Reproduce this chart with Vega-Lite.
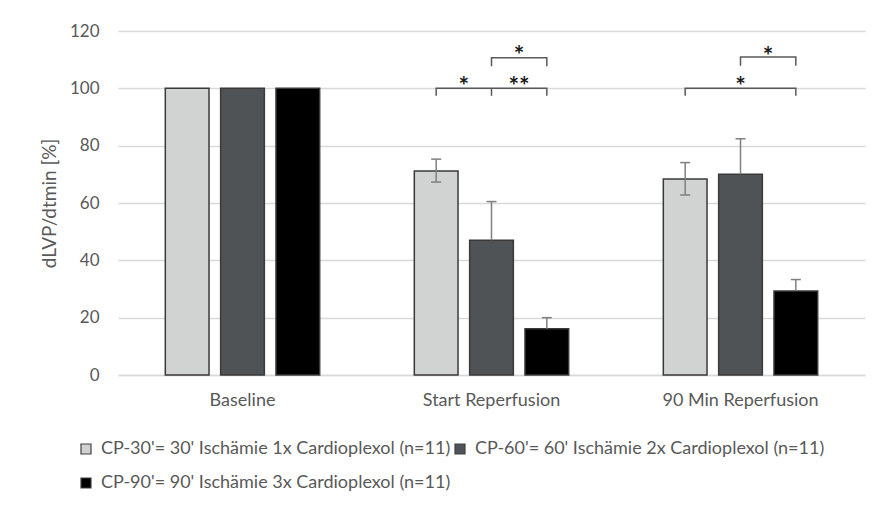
{
  "$schema": "https://vega.github.io/schema/vega-lite/v6.json",
  "width": 747,
  "height": 344,
  "autosize": "none",
  "padding": {"left": 118, "top": 31, "right": 23, "bottom": 131},
  "background": "white",
  "config": {
    "font": "Lato",
    "view": {"stroke": null},
    "axis": {"labelFont": "Lato", "titleFont": "Lato"}
  },
  "datasets": {
    "bars": [
      {"cat": "Baseline", "series": "CP-30'= 30' Ischämie 1x Cardioplexol (n=11)", "value": 100, "lo": null, "hi": null},
      {"cat": "Baseline", "series": "CP-60'= 60' Ischämie 2x Cardioplexol (n=11)", "value": 100, "lo": null, "hi": null},
      {"cat": "Baseline", "series": "CP-90'= 90' Ischämie 3x Cardioplexol (n=11)", "value": 100, "lo": null, "hi": null},
      {"cat": "Start Reperfusion", "series": "CP-30'= 30' Ischämie 1x Cardioplexol (n=11)", "value": 71.2, "lo": 67.3, "hi": 75.3},
      {"cat": "Start Reperfusion", "series": "CP-60'= 60' Ischämie 2x Cardioplexol (n=11)", "value": 47.0, "lo": 47.0, "hi": 60.5},
      {"cat": "Start Reperfusion", "series": "CP-90'= 90' Ischämie 3x Cardioplexol (n=11)", "value": 16.1, "lo": 16.1, "hi": 20.0},
      {"cat": "90 Min Reperfusion", "series": "CP-30'= 30' Ischämie 1x Cardioplexol (n=11)", "value": 68.4, "lo": 62.8, "hi": 74.1},
      {"cat": "90 Min Reperfusion", "series": "CP-60'= 60' Ischämie 2x Cardioplexol (n=11)", "value": 70.0, "lo": 70.0, "hi": 82.4},
      {"cat": "90 Min Reperfusion", "series": "CP-90'= 90' Ischämie 3x Cardioplexol (n=11)", "value": 29.3, "lo": 29.3, "hi": 33.3}
    ],
    "brackets": [
      {"id": "b1", "cat": "Start Reperfusion", "series": "CP-30'= 30' Ischämie 1x Cardioplexol (n=11)", "y": 97.4, "ord": 1},
      {"id": "b1", "cat": "Start Reperfusion", "series": "CP-30'= 30' Ischämie 1x Cardioplexol (n=11)", "y": 100, "ord": 2},
      {"id": "b1", "cat": "Start Reperfusion", "series": "CP-90'= 90' Ischämie 3x Cardioplexol (n=11)", "y": 100, "ord": 3},
      {"id": "b1", "cat": "Start Reperfusion", "series": "CP-90'= 90' Ischämie 3x Cardioplexol (n=11)", "y": 97.4, "ord": 4},
      {"id": "b1m", "cat": "Start Reperfusion", "series": "CP-60'= 60' Ischämie 2x Cardioplexol (n=11)", "y": 97.4, "ord": 1},
      {"id": "b1m", "cat": "Start Reperfusion", "series": "CP-60'= 60' Ischämie 2x Cardioplexol (n=11)", "y": 100, "ord": 2},
      {"id": "b2", "cat": "Start Reperfusion", "series": "CP-60'= 60' Ischämie 2x Cardioplexol (n=11)", "y": 107.7, "ord": 1},
      {"id": "b2", "cat": "Start Reperfusion", "series": "CP-60'= 60' Ischämie 2x Cardioplexol (n=11)", "y": 110.7, "ord": 2},
      {"id": "b2", "cat": "Start Reperfusion", "series": "CP-90'= 90' Ischämie 3x Cardioplexol (n=11)", "y": 110.7, "ord": 3},
      {"id": "b2", "cat": "Start Reperfusion", "series": "CP-90'= 90' Ischämie 3x Cardioplexol (n=11)", "y": 107.7, "ord": 4},
      {"id": "b3", "cat": "90 Min Reperfusion", "series": "CP-30'= 30' Ischämie 1x Cardioplexol (n=11)", "y": 97.4, "ord": 1},
      {"id": "b3", "cat": "90 Min Reperfusion", "series": "CP-30'= 30' Ischämie 1x Cardioplexol (n=11)", "y": 100, "ord": 2},
      {"id": "b3", "cat": "90 Min Reperfusion", "series": "CP-90'= 90' Ischämie 3x Cardioplexol (n=11)", "y": 100, "ord": 3},
      {"id": "b3", "cat": "90 Min Reperfusion", "series": "CP-90'= 90' Ischämie 3x Cardioplexol (n=11)", "y": 97.4, "ord": 4},
      {"id": "b4", "cat": "90 Min Reperfusion", "series": "CP-60'= 60' Ischämie 2x Cardioplexol (n=11)", "y": 107.9, "ord": 1},
      {"id": "b4", "cat": "90 Min Reperfusion", "series": "CP-60'= 60' Ischämie 2x Cardioplexol (n=11)", "y": 110.9, "ord": 2},
      {"id": "b4", "cat": "90 Min Reperfusion", "series": "CP-90'= 90' Ischämie 3x Cardioplexol (n=11)", "y": 110.9, "ord": 3},
      {"id": "b4", "cat": "90 Min Reperfusion", "series": "CP-90'= 90' Ischämie 3x Cardioplexol (n=11)", "y": 107.9, "ord": 4}
    ],
    "starsBetween": [
      {"cat": "Start Reperfusion", "series": "CP-30'= 30' Ischämie 1x Cardioplexol (n=11)", "label": "*", "y": 103.3},
      {"cat": "Start Reperfusion", "series": "CP-60'= 60' Ischämie 2x Cardioplexol (n=11)", "label": "**", "y": 103.3},
      {"cat": "Start Reperfusion", "series": "CP-60'= 60' Ischämie 2x Cardioplexol (n=11)", "label": "*", "y": 113.9},
      {"cat": "90 Min Reperfusion", "series": "CP-60'= 60' Ischämie 2x Cardioplexol (n=11)", "label": "*", "y": 113.8}
    ],
    "starsCenter": [
      {"cat": "90 Min Reperfusion", "series": "CP-60'= 60' Ischämie 2x Cardioplexol (n=11)", "label": "*", "y": 103.1}
    ]
  },
  "encoding": {
    "x": {
      "field": "cat", "type": "nominal",
      "sort": ["Baseline", "Start Reperfusion", "90 Min Reperfusion"],
      "scale": {"paddingInner": 0.38, "paddingOuter": 0.19},
      "axis": {
        "title": null, "labelAngle": 0, "ticks": false,
        "domainColor": "#d9d9d9", "domainWidth": 1.5,
        "labelFontSize": 18, "labelColor": "#595959", "labelPadding": 16
      }
    },
    "xOffset": {
      "field": "series", "type": "nominal",
      "scale": {"paddingInner": 0.21, "paddingOuter": 0}
    }
  },
  "layer": [
    {
      "data": {"name": "bars"},
      "mark": {"type": "bar", "stroke": "#3a3a3a", "strokeWidth": 1.5},
      "encoding": {
        "y": {
          "field": "value", "type": "quantitative",
          "scale": {"domain": [0, 120]},
          "axis": {
            "title": "dLVP/dtmin [%]", "values": [0, 20, 40, 60, 80, 100, 120],
            "domain": false, "ticks": false,
            "gridColor": "#d9d9d9", "gridWidth": 1.5,
            "labelFontSize": 17, "labelColor": "#595959", "labelPadding": 19,
            "titleFontSize": 19, "titleFontWeight": "normal", "titleColor": "#595959", "titlePadding": 10
          }
        },
        "color": {
          "field": "series", "type": "nominal",
          "scale": {"range": ["#d1d3d2", "#4f5356", "#000000"]},
          "legend": {
            "title": null, "orient": "none", "legendX": -41, "legendY": 409,
            "direction": "horizontal", "columns": 2,
            "symbolType": "square", "symbolSize": 100,
            "symbolStrokeColor": "#404040", "symbolStrokeWidth": 1.2,
            "labelFontSize": 18, "labelColor": "#595959", "labelFont": "Lato",
            "labelOffset": 6, "columnPadding": 0, "rowPadding": 16, "labelLimit": 500
          }
        }
      }
    },
    {
      "data": {"name": "bars"},
      "transform": [{"filter": "datum.hi != null"}],
      "mark": {"type": "rule", "color": "#7f7f7f", "strokeWidth": 1.5},
      "encoding": {
        "y": {"field": "lo", "type": "quantitative"},
        "y2": {"field": "hi"}
      }
    },
    {
      "data": {"name": "bars"},
      "transform": [{"filter": "datum.hi != null"}],
      "mark": {"type": "point", "shape": "stroke", "size": 100, "color": "#7f7f7f", "strokeWidth": 1.5, "opacity": 1},
      "encoding": {
        "y": {"field": "hi", "type": "quantitative"}
      }
    },
    {
      "data": {"name": "bars"},
      "transform": [{"filter": "datum.hi != null && datum.lo < datum.value"}],
      "mark": {"type": "point", "shape": "stroke", "size": 100, "color": "#7f7f7f", "strokeWidth": 1.5, "opacity": 1},
      "encoding": {
        "y": {"field": "lo", "type": "quantitative"}
      }
    },
    {
      "data": {"name": "brackets"},
      "mark": {"type": "line", "color": "#595959", "strokeWidth": 1.5},
      "encoding": {
        "y": {"field": "y", "type": "quantitative"},
        "detail": {"field": "id"},
        "order": {"field": "ord"}
      }
    },
    {
      "data": {"name": "starsBetween"},
      "mark": {"type": "text", "dx": 27.6, "dy": 8, "fontSize": 25, "fontWeight": "bold", "color": "#1a1a1a", "baseline": "middle"},
      "encoding": {
        "y": {"field": "y", "type": "quantitative"},
        "text": {"field": "label"}
      }
    },
    {
      "data": {"name": "starsCenter"},
      "mark": {"type": "text", "dy": 8, "fontSize": 25, "fontWeight": "bold", "color": "#1a1a1a", "baseline": "middle"},
      "encoding": {
        "y": {"field": "y", "type": "quantitative"},
        "text": {"field": "label"}
      }
    }
  ]
}
